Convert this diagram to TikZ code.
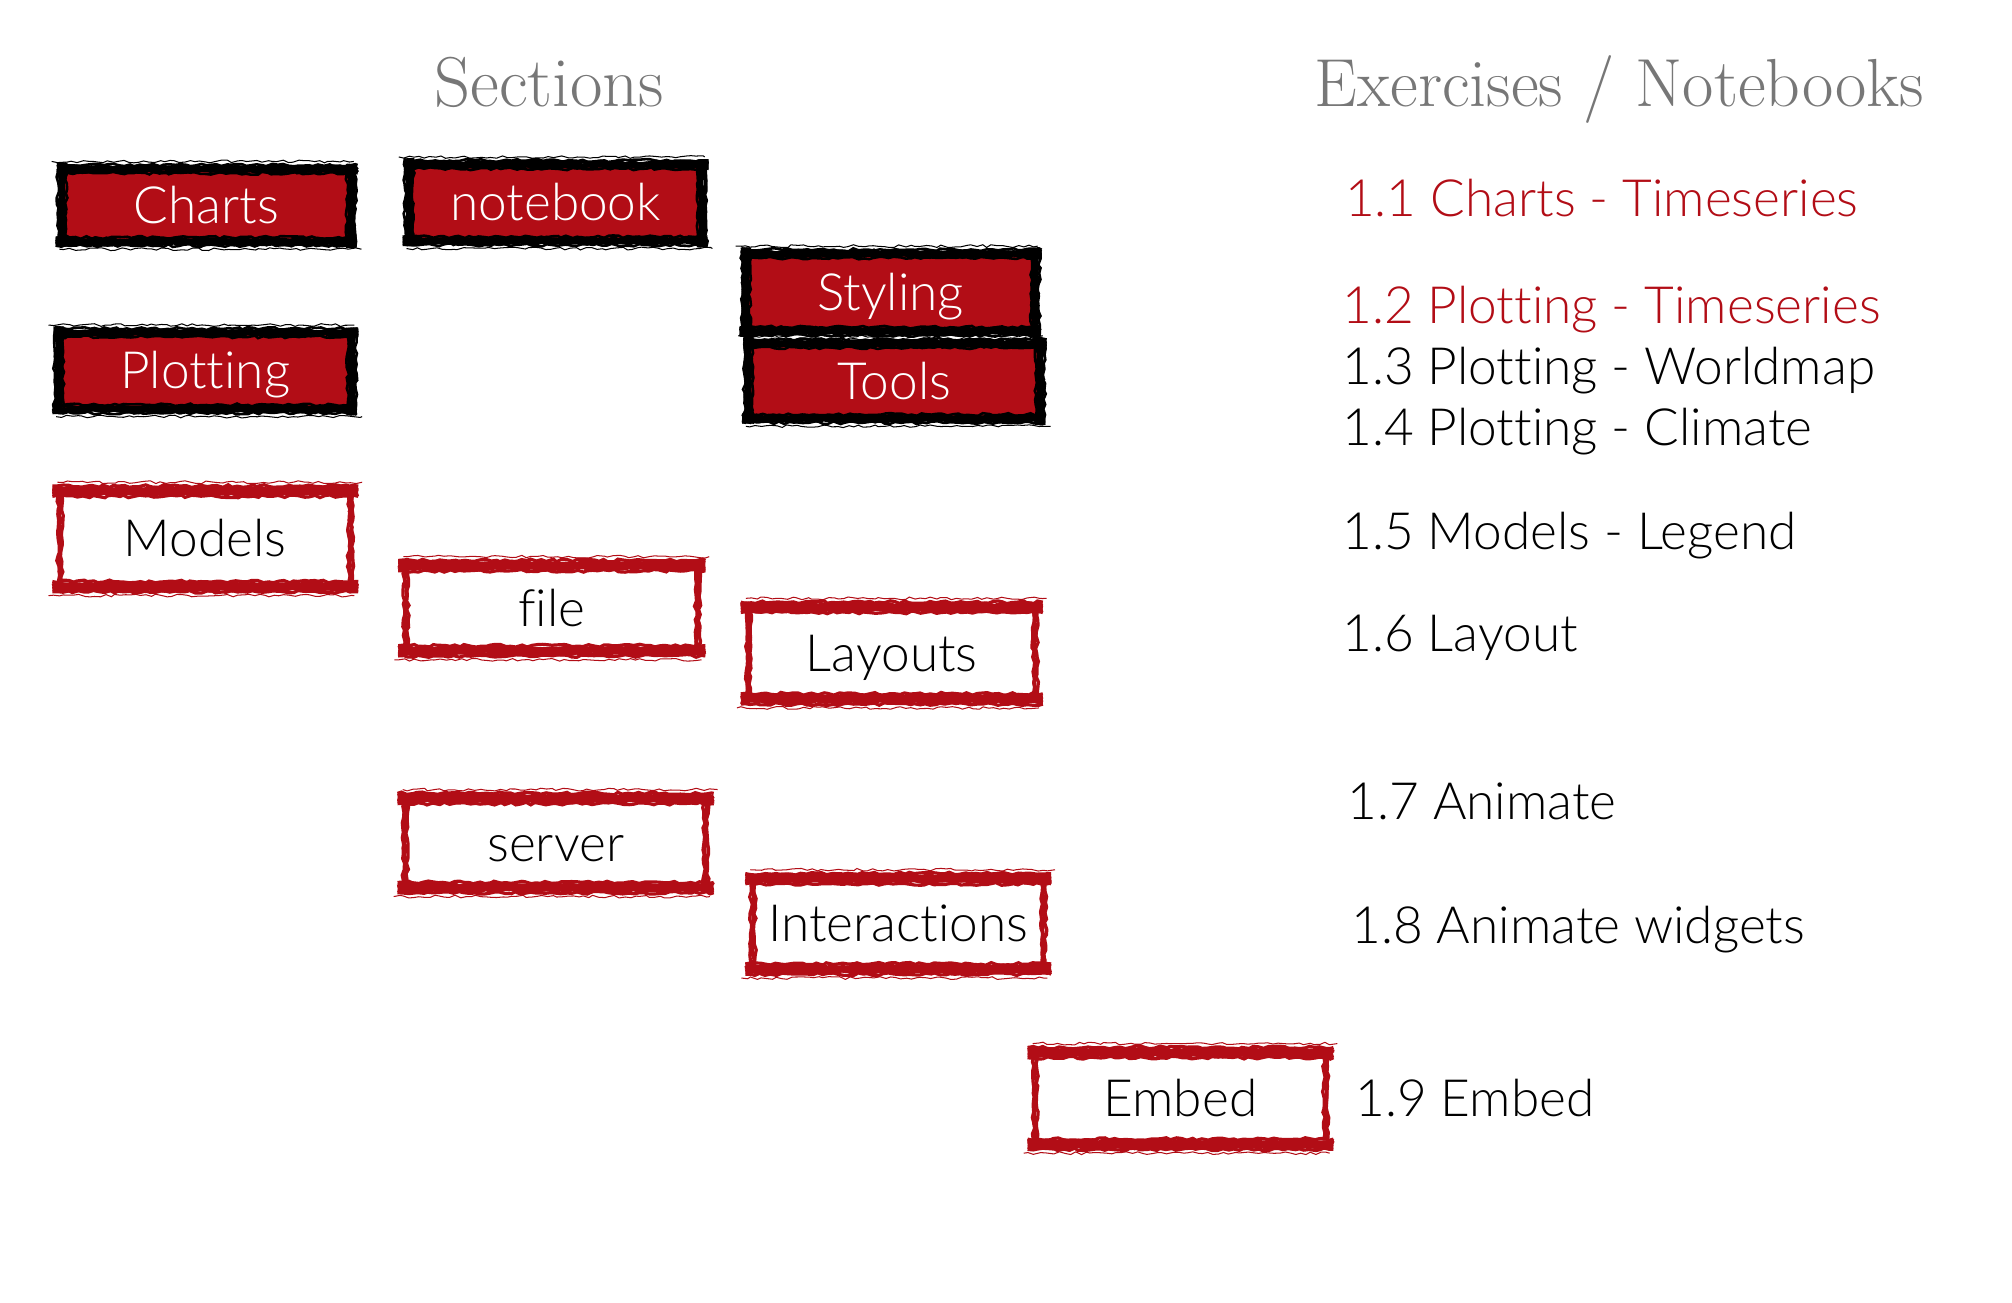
\documentclass[tikz,border=0pt]{standalone}
\usepackage{fontspec}
\setmainfont{Lato Light}[Ligatures=NoCommon]
\newfontfamily\titlefont{Latin Modern Roman}
\usetikzlibrary{calc,decorations.pathmorphing}
\definecolor{brick}{HTML}{B20D16}
\definecolor{titlegray}{HTML}{777777}
\newcommand\blackframe[1]{%
  \foreach \dd/\lw in {-3.2/2,-1.6/3,0/4,1.6/3,3.2/2}{%
    \draw[black,line width=\lw,rough] ($(#1.north west)+(-4,\dd)$) -- ($(#1.north east)+(5,\dd)$);
    \draw[black,line width=\lw,rough] ($(#1.south west)+(-5,\dd)$) -- ($(#1.south east)+(4,\dd)$);
    \draw[black,line width=\lw,rough] ($(#1.north west)+(\dd,-5)$) -- ($(#1.south west)+(\dd,4)$);
    \draw[black,line width=\lw,rough] ($(#1.north east)+(\dd,-4)$) -- ($(#1.south east)+(\dd,5)$);
  }
  \draw[black,line width=0.8,rough] ($(#1.north west)+(-8,-6)$) -- ($(#1.north east)+(2,-6)$);
  \draw[black,line width=0.8,rough] ($(#1.south west)+(-2,6)$) -- ($(#1.south east)+(8,6)$);}
\newcommand\redframe[1]{%
  \foreach \dd/\lw in {-4/2.5,-2/3.5,0/4.5,2/3.5,4/2.5}{%
    \draw[brick,line width=\lw,rough] ($(#1.north west)+(-6,\dd)$) -- ($(#1.north east)+(6,\dd)$);
    \draw[brick,line width=\lw,rough] ($(#1.south west)+(-6,\dd)$) -- ($(#1.south east)+(6,\dd)$);
  }
  \draw[brick,line width=0.8,rough] ($(#1.north west)+(-2,-7)$) -- ($(#1.north east)+(9,-7)$);
  \draw[brick,line width=0.8,rough] ($(#1.south west)+(-9,7)$) -- ($(#1.south east)+(3,7)$);
  \foreach \dd/\lw in {-1.5/2.5,0/3,1.5/2.5}{%
    \draw[brick,line width=\lw,rough] ($(#1.north west)+(\dd,3)$) -- ($(#1.south west)+(\dd,-3)$);
    \draw[brick,line width=\lw,rough] ($(#1.north east)+(\dd,3)$) -- ($(#1.south east)+(\dd,-3)$);
  }}
\begin{document}
\begin{tikzpicture}[x=1pt,y=-1pt,
  rough/.style={decorate,decoration={random steps,segment length=4pt,amplitude=1.1pt}},
  boxtext/.style={inner sep=0pt,font=\fontsize{40}{42}\selectfont,text height=28pt,text depth=0pt},
  filledbox/.style={boxtext,fill=brick,text=white,minimum width=226pt,minimum height=59pt},
  openbox/.style={boxtext,text=black,minimum width=226pt,minimum height=71pt},
  item/.style={anchor=base west,inner sep=0pt,font=\fontsize{40}{42}\selectfont},
  hot/.style={item,text=brick},
  heading/.style={inner sep=0pt,anchor=base,text=titlegray,font=\titlefont\fontsize{53}{55}\selectfont}]
\pgfmathsetseed{11}
\useasboundingbox (0,0) rectangle (1568,1015);
% headings
\node[heading,font=\titlefont\fontsize{55}{57}\selectfont] (hsec) at (428,83) {Sections};
\node[heading] (hex) at (1262,83) {Exercises / Notebooks};
% filled boxes
\node[filledbox,minimum width=225pt,minimum height=56pt] (charts) at (161,160) {Charts};
\node[filledbox,minimum width=228pt] (notebook) at (433,158) {notebook};
\node[filledbox,minimum width=228pt] (plotting) at (160,289) {Plotting};
\node[filledbox,minimum width=225pt,minimum height=60pt] (styling) at (694,228) {Styling};
\node[filledbox,minimum width=227pt,minimum height=58pt] (tools) at (697,297) {Tools};
\blackframe{charts}
\blackframe{notebook}
\blackframe{plotting}
\blackframe{styling}
\blackframe{tools}
% open boxes
\node[openbox,minimum height=74pt] (models) at (160,420) {Models};
\node[openbox,minimum width=227pt,minimum height=66pt] (file) at (430,474) {file};
\node[openbox,minimum width=223pt] (layouts) at (695,509) {Layouts};
\node[openbox,minimum width=234pt,minimum height=69pt] (server) at (433,657) {server};
\node[openbox,minimum height=70pt] (interactions) at (700,720) {Interactions};
\node[openbox] (embed) at (920,856) {Embed};
\redframe{models}
\redframe{file}
\redframe{layouts}
\redframe{server}
\redframe{interactions}
\redframe{embed}
% exercises
\node[hot] (e11) at (1048,169) {1.1 Charts - Timeseries};
\node[hot] (e12) at (1046,252) {1.2 Plotting - Timeseries};
\node[item] (e13) at (1046,300) {1.3 Plotting - Worldmap};
\node[item] (e14) at (1046,347) {1.4 Plotting - Climate};
\node[item] (e15) at (1046,428) {1.5 Models - Legend};
\node[item] (e16) at (1046,508) {1.6 Layout};
\node[item] (e17) at (1050,639) {1.7 Animate};
\node[item] (e18) at (1053,735) {1.8 Animate widgets};
\node[item] (e19) at (1056,870) {1.9 Embed};
\end{tikzpicture}
\end{document}
